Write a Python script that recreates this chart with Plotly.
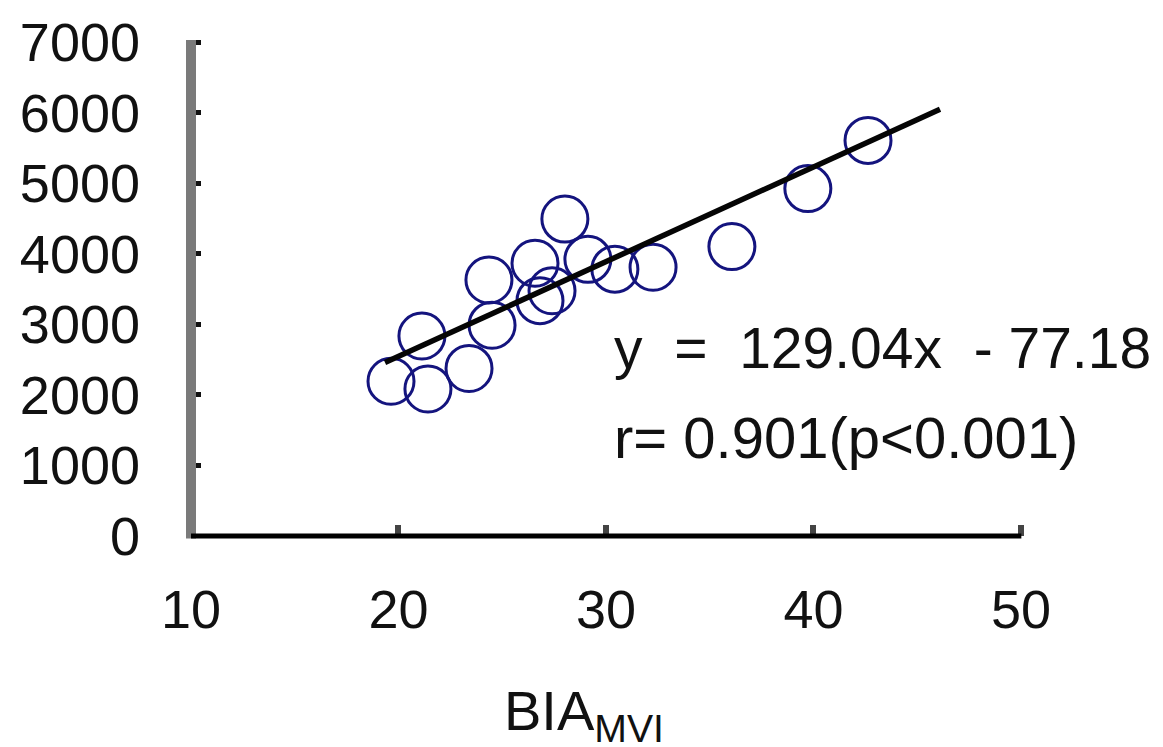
import plotly.graph_objects as go

# Data
bia_mvi = [19.64, 21.13, 21.42, 23.40, 24.51, 24.36, 26.58, 26.82, 27.40,
           28.02, 29.13, 30.43, 32.27, 36.07, 39.73, 42.63]
y_vals = [2194, 2835, 2083, 2375, 2988, 3629, 3866, 3336, 3476,
          4492, 3921, 3782, 3810, 4102, 4924, 5607]

fit_x = [19.35, 46.10]
fit_y = [2459, 6050]

x_ticks = [10, 20, 30, 40, 50]
y_ticks = [0, 1000, 2000, 3000, 4000, 5000, 6000, 7000]

eq_text = "y\u00a0\u00a0=\u00a0\u00a0129.04x\u00a0\u00a0-\u00a077.18"
r_text = "r=\u00a00.901(p<0.001)"

# annotation anchor positions (data units)
eq_pos = (30.29, 2660)
r_pos = (30.29, 1400)

FONT = "Liberation Sans, Arial, sans-serif"

fig = go.Figure()
fig.add_trace(go.Scatter(
    x=bia_mvi, y=y_vals, mode="markers",
    marker=dict(symbol="circle-open", size=46, color="#14147e",
                line=dict(width=3, color="#14147e")),
    showlegend=False, cliponaxis=False))
fig.add_trace(go.Scatter(
    x=fit_x, y=fit_y, mode="lines",
    line=dict(color="#050505", width=5.5),
    showlegend=False, cliponaxis=False))

fig.update_layout(
    width=1163, height=747,
    margin=dict(l=191, r=140, t=32, b=211),
    paper_bgcolor="white", plot_bgcolor="white",
    font=dict(family=FONT, size=54, color="#111"),
    xaxis=dict(range=[10, 50.1], tickvals=x_ticks, ticktext=[str(v) for v in x_ticks],
               showgrid=False, zeroline=False, showline=False,
               ticks="inside", ticklen=11, tickwidth=6, tickcolor="#444",
               ticklabelstandoff=37, tickfont=dict(size=54, family=FONT, color="#111")),
    yaxis=dict(range=[0, 7030], tickvals=y_ticks, ticktext=[str(v) for v in y_ticks],
               showgrid=False, zeroline=False, showline=False,
               ticks="inside", ticklen=10, tickwidth=5, tickcolor="#111",
               ticklabelstandoff=50, tickfont=dict(size=54, family=FONT, color="#111")),
    shapes=[
        dict(type="line", xref="paper", yref="paper", x0=0, x1=0, y0=-0.005, y1=1.0,
             line=dict(color="#7a7a7a", width=10)),
        dict(type="line", xref="paper", yref="paper", x0=0, x1=0.998, y0=0, y1=0,
             line=dict(color="#000", width=5)),
    ],
    annotations=[
        dict(text="BIA<sub>MVI</sub>", xref="paper", yref="paper",
             x=0.472, y=-0.36, xanchor="center", yanchor="middle",
             showarrow=False, font=dict(size=56, family=FONT, color="#111")),
        dict(text=eq_text, xref="x", yref="y", x=eq_pos[0], y=eq_pos[1],
             xanchor="left", yanchor="middle", showarrow=False,
             font=dict(size=57, family=FONT, color="#111")),
        dict(text=r_text, xref="x", yref="y", x=r_pos[0], y=r_pos[1],
             xanchor="left", yanchor="middle", showarrow=False,
             font=dict(size=58, family=FONT, color="#111")),
    ],
)

fig.write_html("out.html")
